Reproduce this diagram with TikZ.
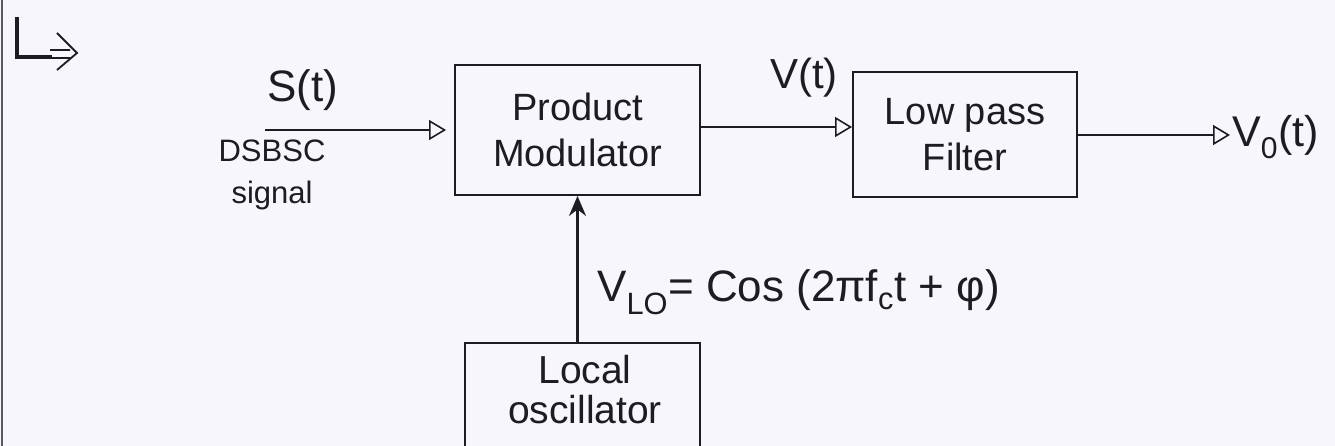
\documentclass[tikz,border=0pt]{standalone}
\usepackage{fontspec}
\setmainfont{Liberation Sans}
\usetikzlibrary{arrows.meta}
\definecolor{bg}{RGB}{246,246,252}
\definecolor{ink}{RGB}{28,28,34}
\begin{document}
\begin{tikzpicture}[x=1pt,y=-1pt,
  blk/.style={draw=ink, line width=1.9pt, rectangle, inner sep=0pt, align=center, text=ink, font=\fontsize{38}{46}\selectfont},
  lbl/.style={font=\fontsize{38}{42}\selectfont, text=ink, inner sep=0pt, align=center},
  sig/.style={draw=ink, line width=1.7pt, -{Triangle[open, length=17pt, width=20pt, line width=1.6pt]}},
  up/.style={draw=ink, line width=2.2pt, -{Stealth[length=20pt, width=17pt]}},
]
\fill[bg] (0,0) rectangle (1335,446);
\useasboundingbox (0,0) rectangle (1335,446);
\clip (0,0) rectangle (1335,446);
% left page border
\draw[gray!70!black, line width=2.5pt] (2,0) -- (2,446);
% corner mark
\draw[ink, line width=4.5pt] (17,17) -- (17,57) -- (52,57);
\draw[ink, line width=1.8pt] (50,50) -- (70,50) (50,58) -- (70,58) (57,33) -- (77,53) -- (57,70);
% blocks
\node[blk, minimum width=245pt, minimum height=130pt] (pm) at (577.5,130) {Product\\Modulator};
\node[blk, minimum width=224pt, minimum height=125pt] (lpf) at (965,134.5) {Low pass\\Filter};
\node[blk, minimum width=235pt, minimum height=130pt] (lo) at (582.5,408) {};
\node[lbl, font=\fontsize{39}{40}\selectfont] (lotxt) at (585,390) {Local\\oscillator};
% input
\coordinate (in) at (265,130);
\draw[sig] (in) -- ([xshift=-8pt]pm.west);
\node[lbl, font=\fontsize{44}{44}\selectfont] (st) at (303,90) {S(t)};
\node[lbl, font=\fontsize{31}{42}\selectfont] (dsb) at (272,175) {DSBSC\\signal};
% modulator to filter
\draw[sig] ([yshift=3pt]pm.east) -- ([yshift=3pt]pm.east -| lpf.west);
\node[lbl, font=\fontsize{42}{42}\selectfont] (vt) at (804,78) {V(t)};
% output
\coordinate (out) at (1230,135);
\draw[sig] (lpf.east |- out) -- (out);
\node[lbl, anchor=west, font=\fontsize{43}{43}\selectfont] (vo) at (1232,137) {V\textsubscript{0}(t)};
% oscillator to modulator
\draw[up] (lo.north -| pm.south) -- (pm.south);
\node[lbl, anchor=west, font=\fontsize{44}{44}\selectfont] (eq) at (597,292) {V\textsubscript{LO}= Cos (2πf\textsubscript{c}t + φ)};
\end{tikzpicture}
\end{document}
